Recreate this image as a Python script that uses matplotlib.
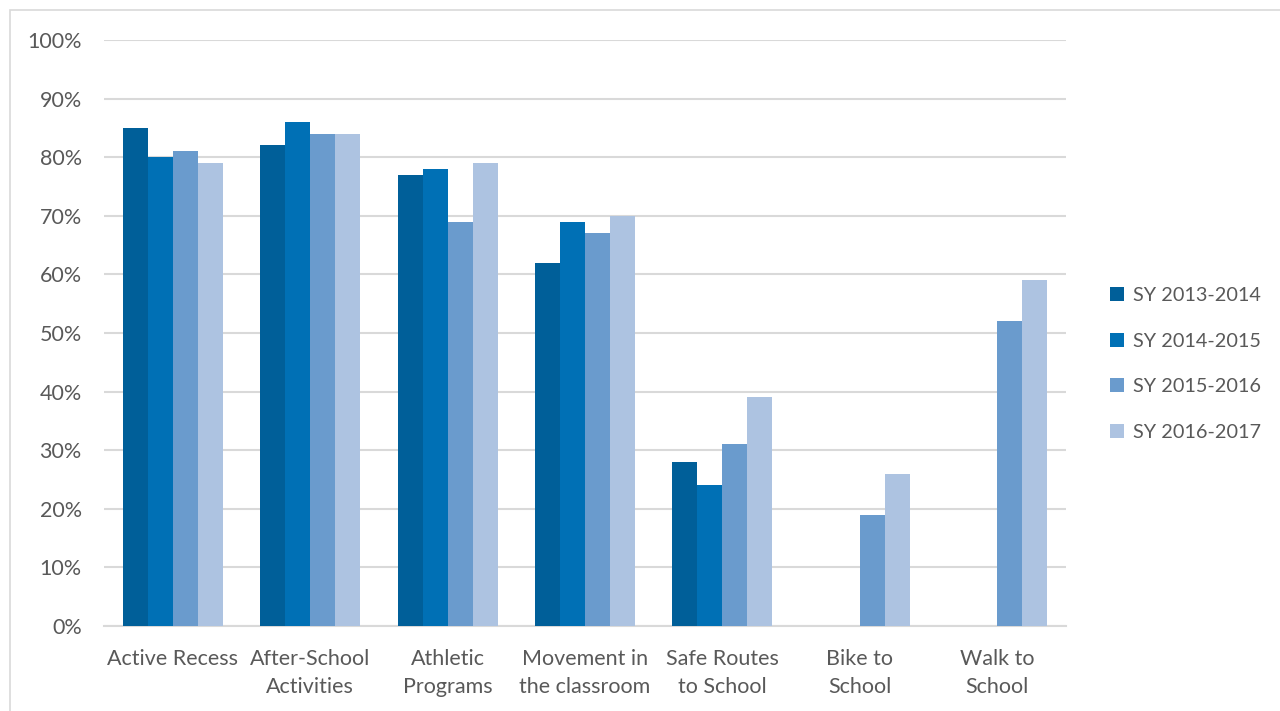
import matplotlib
matplotlib.use("Agg")
import matplotlib.pyplot as plt
import numpy as np
from matplotlib.patches import Rectangle

categories = ["Active Recess", "After-School\nActivities", "Athletic\nPrograms",
              "Movement in\nthe classroom", "Safe Routes\nto School", "Bike to\nSchool",
              "Walk to\nSchool"]
series_names = ["SY 2013-2014", "SY 2014-2015", "SY 2015-2016", "SY 2016-2017"]
sy_2013_2014 = [85, 82, 77, 62, 28, np.nan, np.nan]
sy_2014_2015 = [80, 86, 78, 69, 24, np.nan, np.nan]
sy_2015_2016 = [81, 84, 69, 67, 31, 19, 52]
sy_2016_2017 = [79, 84, 79, 70, 39, 26, 59]
yticks = list(range(0, 101, 10))
ytick_labels = [f"{v}%" for v in yticks]

colors = ["#005F99", "#0070B5", "#6A9BCD", "#ADC3E1"]
text_color = "#595959"
grid_color = "#D9D9D9"

plt.rcParams['font.family'] = ['Lato', 'DejaVu Sans']

W, H = 1280, 711
fig = plt.figure(figsize=(W / 100, H / 100), dpi=100)
fig.patch.set_facecolor("white")

# outer chart border
fig.patches.append(Rectangle((10 / W, -0.1), 1.2, (H - 10) / H + 0.1,
                             transform=fig.transFigure, fill=False,
                             edgecolor="#D9D9D9", linewidth=1.2))

left, right, top, bottom = 104, 1066, 40, 626
ax = fig.add_axes([left / W, 1 - bottom / H, (right - left) / W, (bottom - top) / H])

x = np.arange(len(categories))
bw = 0.182
all_series = [sy_2013_2014, sy_2014_2015, sy_2015_2016, sy_2016_2017]
for i, (vals, name, c) in enumerate(zip(all_series, series_names, colors)):
    offs = (i - 1.5) * bw
    ax.bar(x + offs, vals, width=bw, color=c, label=name, zorder=3, linewidth=0)

ax.set_xlim(-0.5, len(categories) - 0.5)
ax.set_ylim(0, 100)
ax.set_yticks(yticks)
ax.set_yticklabels(ytick_labels)
ax.set_xticks(x)
ax.set_xticklabels(categories, linespacing=1.5)
ax.yaxis.grid(True, color=grid_color, linewidth=1.5, zorder=0)
ax.set_axisbelow(True)
for s in ["top", "right", "left"]:
    ax.spines[s].set_visible(False)
ax.spines["bottom"].set_color(grid_color)
ax.spines["bottom"].set_linewidth(1.5)
ax.tick_params(axis="both", length=0, colors=text_color, labelsize=15.5)
ax.tick_params(axis="y", pad=16)
ax.tick_params(axis="x", pad=16.5)
for lab in ax.get_xticklabels() + ax.get_yticklabels():
    lab.set_color(text_color)

leg = ax.legend(loc="center left", bbox_to_anchor=(1092 / W, 1 - 364 / H),
                bbox_transform=fig.transFigure, frameon=False, fontsize=14.3,
                handlelength=0.7, handleheight=0.7, handletextpad=0.45,
                labelspacing=1.45, labelcolor=text_color)

fig.savefig("out.png", dpi=100, facecolor="white")
